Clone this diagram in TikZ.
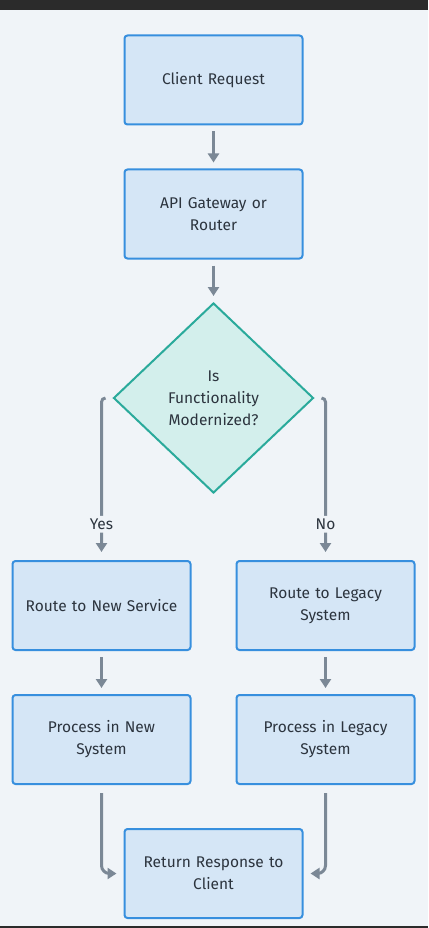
\documentclass[tikz,border=0pt]{standalone}
\usepackage{fontspec}
\setmainfont{Fira Sans}
\usetikzlibrary{shapes.geometric,arrows.meta}
\definecolor{bg}{RGB}{240,244,248}
\definecolor{bar}{RGB}{43,43,43}
\definecolor{boxfill}{RGB}{213,230,246}
\definecolor{boxline}{RGB}{55,143,222}
\definecolor{decfill}{RGB}{211,239,236}
\definecolor{decline}{RGB}{42,170,155}
\definecolor{arrcol}{RGB}{123,136,150}
\definecolor{txt}{RGB}{44,52,62}
\tikzset{
  box/.style={draw=boxline, fill=boxfill, line width=2pt, rounded corners=3pt,
    minimum width=178pt, minimum height=89pt, inner sep=0pt, align=center,
    text=txt, font=\fontsize{15.5}{22}\selectfont, text width=170pt},
  decision/.style={diamond, draw=decline, fill=decfill, line width=2pt,
    minimum width=200pt, minimum height=190pt, aspect=1.05, inner sep=0pt, align=center,
    text=txt, font=\fontsize{15.5}{22}\selectfont},
  arr/.style={draw=arrcol, line width=3pt, -{Triangle[width=11pt,length=9pt]}},
  lbl/.style={fill=bg, text=txt, font=\fontsize{15.5}{16}\selectfont, inner sep=3pt}
}
\begin{document}
\begin{tikzpicture}[x=1pt,y=-1pt]
\useasboundingbox (0,0) rectangle (428,928);
\fill[bg] (0,0) rectangle (428,928);
\fill[bar] (0,0) rectangle (428,10);
\fill[bar] (0,926) rectangle (428,928);

\node[box] (client) at (213.5,80) {Client Request};
\node[box] (api) at (213.5,214) {API Gateway or\\Router};
\node[decision] (dec) at (213.5,398) {Is\\Functionality\\Modernized?};
\node[box] (newsvc) at (101.5,605.5) {Route to New Service};
\node[box] (legsvc) at (325.5,605.5) {Route to Legacy\\System};
\node[box] (procnew) at (101.5,739.5) {Process in New\\System};
\node[box] (procleg) at (325.5,739.5) {Process in Legacy\\System};
\node[box] (ret) at (213.5,873.5) {Return Response to\\Client};

\draw[arr] ([yshift=-6pt]client.south) -- ([yshift=6pt]api.north);
\draw[arr] ([yshift=-6pt]api.south) -- ([yshift=6pt]dec.north);

\draw[arr, rounded corners=4pt] ([xshift=-7pt]dec.west) -| ([yshift=8pt]newsvc.north)
  node[lbl, pos=0.91] {Yes};
\draw[arr, rounded corners=4pt] ([xshift=7pt]dec.east) -| ([yshift=8pt]legsvc.north)
  node[lbl, pos=0.91] {No};

\draw[arr] ([yshift=-6pt]newsvc.south) -- ([yshift=6pt]procnew.north);
\draw[arr] ([yshift=-6pt]legsvc.south) -- ([yshift=6pt]procleg.north);

\draw[arr, rounded corners=8pt] ([yshift=-8pt]procnew.south) |- ([xshift=-7pt]ret.west);
\draw[arr, rounded corners=8pt] ([yshift=-8pt]procleg.south) |- ([xshift=7pt]ret.east);
\end{tikzpicture}
\end{document}
